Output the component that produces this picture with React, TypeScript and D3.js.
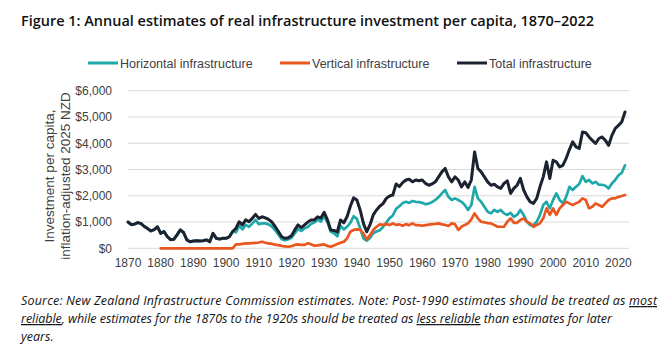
import React from "react";
import * as d3 from "d3";

// ---------- DATA ----------
const firstYear = 1870;
const lastYear = 2022;
const years: number[] = d3.range(firstYear, lastYear + 1);

// Total infrastructure investment per capita (inflation-adjusted 2025 NZD)
const total: number[] = [
  1000, 900, 920, 980, 940, 830, 750, 660, 710, 820, // 1870s
  570, 640, 450, 330, 340, 510, 700, 600, 320, 250, // 1880s
  280, 290, 280, 290, 320, 250, 570, 380, 350, 380, // 1890s
  380, 440, 640, 760, 1010, 890, 1080, 1010, 1140, 1290, // 1900s
  1140, 1200, 1160, 1100, 1000, 830, 640, 440, 380, 400, // 1910s
  480, 700, 890, 790, 890, 1000, 1080, 1080, 1200, 1150, // 1920s
  1370, 1080, 700, 680, 620, 1080, 970, 1200, 1600, 1920, // 1930s
  1840, 1460, 950, 630, 890, 1270, 1460, 1600, 1700, 1900, // 1940s
  1990, 2030, 2450, 2350, 2500, 2600, 2630, 2530, 2600, 2570, // 1950s
  2600, 2470, 2400, 2450, 2530, 2720, 2910, 3040, 2720, 2530, // 1960s
  2720, 2600, 2340, 2530, 2320, 2600, 3670, 3040, 2910, 2720, // 1970s
  2530, 2400, 2440, 2340, 2280, 2470, 2570, 2090, 2280, 2400, // 1980s
  2660, 2220, 1960, 1770, 1710, 1900, 2340, 2720, 3290, 2660, // 1990s
  3350, 3290, 3100, 3160, 3420, 3760, 4050, 3860, 3800, 4430, // 2000s
  4400, 4240, 4110, 3990, 4180, 4240, 4110, 3920, 4300, 4560, // 2010s
  4680, 4810, 5190, // 2020-2022
];

// Horizontal infrastructure
const horizontal: number[] = [
  1000, 900, 920, 980, 940, 830, 750, 660, 710, 820, // 1870s
  570, 640, 450, 330, 340, 510, 700, 600, 320, 250, // 1880s
  280, 290, 280, 290, 320, 250, 570, 380, 350, 380, // 1890s
  380, 440, 640, 610, 860, 720, 890, 820, 940, 1080, // 1900s
  920, 950, 950, 910, 830, 690, 520, 350, 310, 340, // 1910s
  400, 570, 740, 660, 760, 810, 930, 980, 1090, 1020, // 1920s
  1220, 990, 640, 570, 455, 865, 720, 820, 970, 1220, // 1930s
  1120, 760, 380, 290, 390, 570, 640, 690, 810, 980, // 1940s
  1150, 1250, 1500, 1600, 1720, 1770, 1730, 1800, 1770, 1760, // 1950s
  1730, 1680, 1700, 1760, 1840, 1950, 2090, 2220, 1960, 1840, // 1960s
  1900, 1840, 1770, 1650, 1460, 1650, 2340, 1900, 1770, 1580, // 1970s
  1390, 1330, 1460, 1390, 1460, 1330, 1270, 1350, 1200, 1270, // 1980s
  1460, 1270, 1010, 880, 880, 1010, 1270, 1650, 1770, 1520, // 1990s
  1840, 2090, 1840, 1710, 1960, 2340, 2220, 2340, 2450, 2750, // 2000s
  2530, 2600, 2470, 2530, 2420, 2420, 2380, 2280, 2470, 2600, // 2010s
  2780, 2870, 3160, // 2020-2022
];

// Vertical infrastructure (no estimate before 1880)
const vertical: (number | null)[] = [
  null, null, null, null, null, null, null, null, null, null, // 1870s
  0, 0, 0, 0, 0, 0, 0, 0, 0, 0, // 1880s
  0, 0, 0, 0, 0, 0, 0, 0, 0, 0, // 1890s
  0, 0, 0, 150, 150, 170, 190, 190, 200, 210, // 1900s
  220, 250, 210, 190, 170, 140, 120, 90, 70, 60, // 1910s
  80, 130, 150, 130, 130, 190, 150, 100, 110, 130, // 1920s
  150, 90, 60, 110, 165, 215, 250, 380, 630, 700, // 1930s
  720, 700, 570, 340, 500, 700, 820, 910, 890, 920, // 1940s
  890, 950, 890, 910, 860, 920, 880, 950, 880, 880, // 1950s
  860, 880, 900, 920, 930, 950, 910, 890, 850, 950, // 1960s
  920, 700, 820, 890, 950, 1100, 1330, 1140, 1010, 990, // 1970s
  960, 950, 890, 820, 820, 820, 1010, 1140, 970, 970, // 1980s
  1080, 1140, 1010, 950, 820, 890, 950, 1140, 1520, 1270, // 1990s
  1520, 1270, 1520, 1650, 1770, 1710, 1650, 1710, 1770, 1900, // 2000s
  1840, 1520, 1580, 1710, 1650, 1580, 1710, 1840, 1900, 1900, // 2010s
  1960, 1990, 2030, // 2020-2022
];

const yTickValues = [0, 1000, 2000, 3000, 4000, 5000, 6000];
const xTickYears = [1870, 1880, 1890, 1900, 1910, 1920, 1930, 1940, 1950, 1960, 1970, 1980, 1990, 2000, 2010, 2020];
const seriesNames = ["Horizontal infrastructure", "Vertical infrastructure", "Total infrastructure"];
const seriesColors = ["#1fa8a9", "#ea561f", "#1b2230"];

const titleText = "Figure 1: Annual estimates of real infrastructure investment per capita, 1870\u20132022";
const yTitleLines = ["Investment per capita,", "inflation-adjusted 2025 NZD"];

// ---------- CHART ----------
const W = 668;
const H = 353;
const axisFont = "'Liberation Sans', Arial, sans-serif";
const textFont = "'Open Sans', 'Noto Sans', sans-serif";

export default function App() {
  const x = d3.scaleLinear().domain([firstYear, lastYear]).range([128, 625]);
  const y = d3.scaleLinear().domain([0, 6000]).range([248.3, 90.7]);
  const fmt = (v: number) => "$" + d3.format(",")(v);

  const lineGen = d3
    .line<number | null>()
    .defined((d) => d != null)
    .x((_, i) => x(years[i]))
    .y((d) => y(d as number));

  const series = [horizontal, vertical, total];
  const widths = [2.7, 2.7, 3];

  const legendSwatchX = [88, 280, 457];
  const legendY = 63;

  return (
    <svg
      width={W}
      height={H}
      viewBox={`0 0 ${W} ${H}`}
      style={{ position: "absolute", left: 0, top: 0, background: "#ffffff" }}
    >
      <rect x={0} y={0} width={W} height={H} fill="#ffffff" />
      {/* Title */}
      <text
        x={21}
        y={26}
        fontFamily={textFont}
        fontWeight={600}
        fontSize={14.5}
        fill="#111"
        textLength={573}
        lengthAdjust="spacingAndGlyphs"
      >
        {titleText}
      </text>

      {/* Legend */}
      {seriesNames.map((name, i) => (
        <g key={name}>
          <line
            x1={legendSwatchX[i]}
            x2={legendSwatchX[i] + 30}
            y1={legendY}
            y2={legendY}
            stroke={seriesColors[i]}
            strokeWidth={3}
          />
          <text
            x={legendSwatchX[i] + 32}
            y={legendY + 4.5}
            fontFamily={axisFont}
            fontSize={12.5}
            fill="#404040"
          >
            {name}
          </text>
        </g>
      ))}

      {/* Gridlines */}
      {yTickValues.map((v) => (
        <line key={v} x1={128} x2={629} y1={y(v)} y2={y(v)} stroke="#d9d9d9" strokeWidth={1} />
      ))}

      {/* Y tick labels */}
      {yTickValues.map((v) => (
        <text
          key={v}
          x={112}
          y={y(v) + 4.3}
          textAnchor="end"
          fontFamily={axisFont}
          fontSize={12}
          fill="#404040"
        >
          {fmt(v)}
        </text>
      ))}

      {/* X tick labels */}
      {xTickYears.map((yr) => (
        <text
          key={yr}
          x={x(yr)}
          y={267}
          textAnchor="middle"
          fontFamily={axisFont}
          fontSize={12}
          fill="#404040"
        >
          {yr}
        </text>
      ))}

      {/* Y axis title */}
      {yTitleLines.map((t, i) => (
        <text
          key={t}
          transform={`translate(${54 + i * 15.5},176) rotate(-90)`}
          textAnchor="middle"
          fontFamily={axisFont}
          fontSize={13.5}
          fill="#404040"
        >
          {t}
        </text>
      ))}

      {/* Lines */}
      {series.map((s, i) => (
        <path
          key={seriesNames[i]}
          d={lineGen(s) || ""}
          fill="none"
          stroke={seriesColors[i]}
          strokeWidth={widths[i]}
          strokeLinejoin="round"
          strokeLinecap="round"
        />
      ))}

      {/* Footnote */}
      <g fontFamily={textFont} fontStyle="italic" fontSize={12.5} fill="#111">
        <text x={21} y={305} textLength={636} lengthAdjust="spacing">
          Source: New Zealand Infrastructure Commission estimates. Note: Post-1990 estimates should be treated as{" "}
          <tspan style={{ textDecoration: "underline" }}>most</tspan>
        </text>
        <text x={21} y={323} textLength={591} lengthAdjust="spacing">
          <tspan style={{ textDecoration: "underline" }}>reliable</tspan>, while estimates for the 1870s to the 1920s
          should be treated as <tspan style={{ textDecoration: "underline" }}>less reliable</tspan> than estimates for
          later
        </text>
        <text x={21} y={341}>
          years.
        </text>
      </g>
    </svg>
  );
}
